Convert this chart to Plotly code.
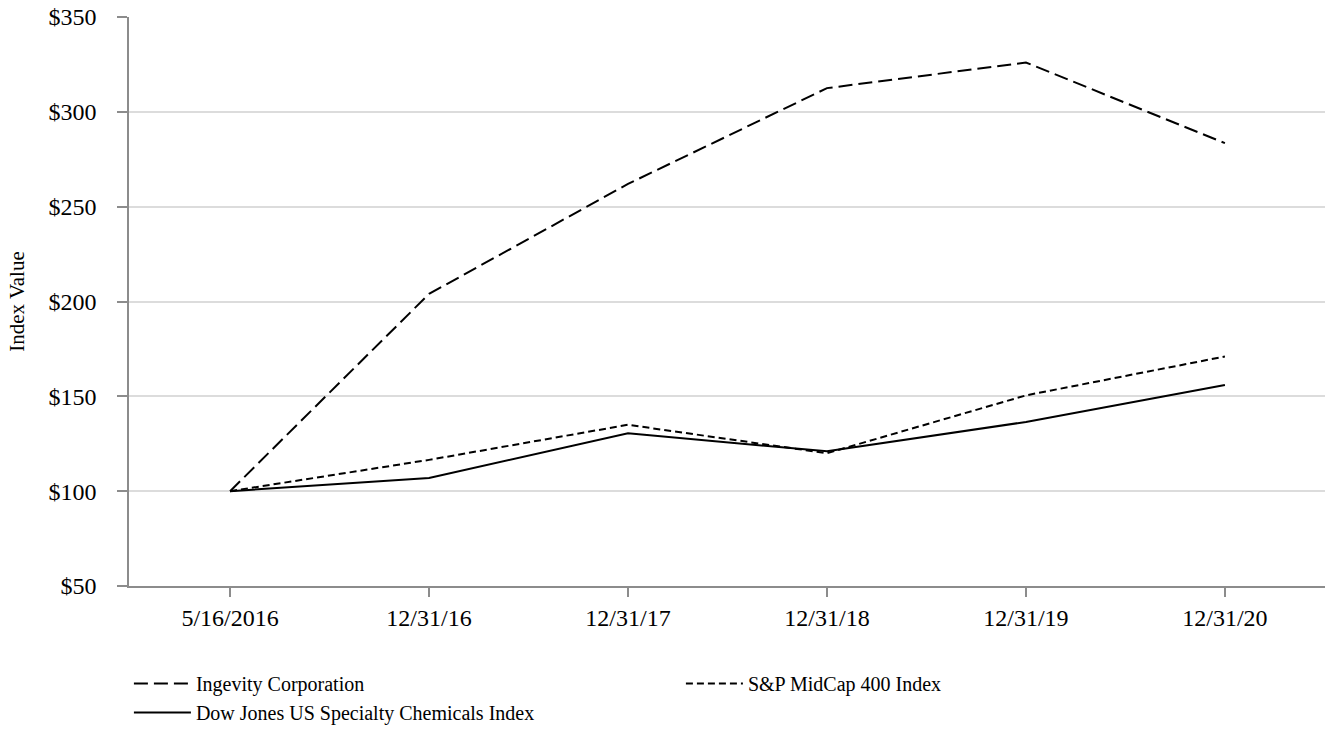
import plotly.graph_objects as go

categories = ["5/16/2016", "12/31/16", "12/31/17", "12/31/18", "12/31/19", "12/31/20"]
ingevity = [100, 204, 262, 312.5, 326, 283.5]
sp_midcap = [100, 116.5, 135, 120, 150.5, 171]
dow_jones = [100, 107, 130.5, 121, 136.5, 156]
y_ticks = [50, 100, 150, 200, 250, 300, 350]
y_tick_labels = ["$50", "$100", "$150", "$200", "$250", "$300", "$350"]

FONT = "Liberation Serif, Times New Roman, serif"
x_idx = list(range(len(categories)))

fig = go.Figure()
fig.add_trace(go.Scatter(x=x_idx, y=ingevity, mode="lines", name="Ingevity Corporation",
                         line=dict(color="black", width=2, dash="14px,6px")))
fig.add_trace(go.Scatter(x=x_idx, y=sp_midcap, mode="lines", name="S&P MidCap 400 Index",
                         line=dict(color="black", width=2, dash="7px,4px")))
fig.add_trace(go.Scatter(x=x_idx, y=dow_jones, mode="lines", name="Dow Jones US Specialty Chemicals Index",
                         line=dict(color="black", width=2)))

fig.update_layout(
    width=1329, height=732,
    margin=dict(l=129, r=4, t=14, b=146),
    paper_bgcolor="white", plot_bgcolor="white",
    font=dict(family=FONT, size=24, color="black"),
    showlegend=True,
    legend=dict(
        orientation="h", xref="container", yref="container",
        x=0.097, xanchor="left", y=0.093, yanchor="top",
        font=dict(family=FONT, size=20, color="black"),
        itemwidth=57, entrywidth=480, entrywidthmode="pixels",
        tracegroupgap=0, itemclick=False,
    ),
    xaxis=dict(
        tickmode="array", tickvals=x_idx, ticktext=categories,
        range=[-0.508, 5.503], showgrid=False, zeroline=False,
        showline=True, linecolor="#8c8c8c", linewidth=1.5,
        ticks="outside", ticklen=9, tickcolor="#8c8c8c", tickwidth=1.5,
        tickfont=dict(family=FONT, size=24, color="black"),
        ticklabelstandoff=0,
    ),
    yaxis=dict(
        title=dict(text="Index Value", font=dict(family=FONT, size=21, color="black"), standoff=18),
        tickmode="array", tickvals=y_ticks, ticktext=y_tick_labels,
        range=[50, 350], showgrid=True, gridcolor="#dcdcdc", gridwidth=1.5,
        zeroline=False, showline=True, linecolor="#8c8c8c", linewidth=1.5,
        ticks="outside", ticklen=10, tickcolor="#8c8c8c", tickwidth=1.5,
        tickfont=dict(family=FONT, size=24, color="black"),
        ticklabelstandoff=16,
    ),
)

fig.write_html("out.html")
